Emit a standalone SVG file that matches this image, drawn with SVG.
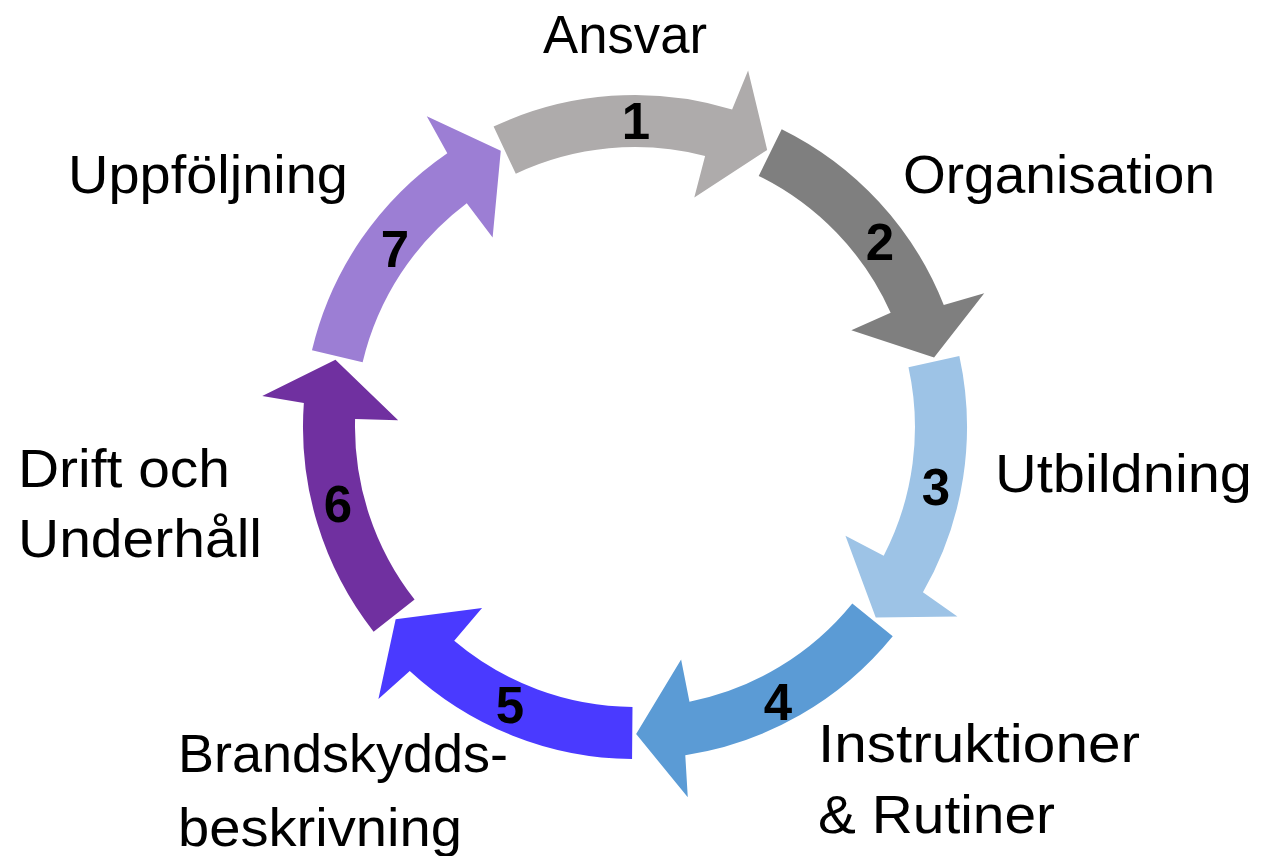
<svg xmlns="http://www.w3.org/2000/svg" xmlns:xlink="http://www.w3.org/1999/xlink" width="1261" height="856" viewBox="0 0 1261 856">
<style>
.lbl{font-family:"Liberation Sans",Arial,sans-serif;font-size:54px;fill:#000}
.num{font-family:"Liberation Sans",Arial,sans-serif;font-size:51px;font-weight:bold;fill:#000;text-anchor:middle}
</style>
<defs>
<path id="arr" d="M493.6,126.6 A332,332 0 0 1 732.1,109.5 L748.1,70.5 L767.2,149.9 L694.3,197.6 L705.1,155.9 A280,280 0 0 0 515.8,173.7 Z"/>
</defs>
<rect width="1261" height="856" fill="#fff"/>
<g id="connectors">
<g id="arrow1"><use href="#arr" fill="#AEABAB"/></g>
<g id="arrow2"><use href="#arr" fill="#7F7F7F" transform="rotate(51.4286 635 427)"/></g>
<g id="arrow3"><use href="#arr" fill="#9DC3E6" transform="rotate(102.8571 635 427)"/></g>
<g id="arrow4"><use href="#arr" fill="#5B9BD5" transform="rotate(154.2857 635 427)"/></g>
<g id="arrow5"><use href="#arr" fill="#4A3AFF" transform="rotate(205.7143 635 427)"/></g>
<g id="arrow6"><use href="#arr" fill="#7030A0" transform="rotate(257.1429 635 427)"/></g>
<g id="arrow7"><use href="#arr" fill="#9C7ED4" transform="rotate(308.5714 635 427)"/></g>
</g>
<g id="numbers">
<text class="num" x="636" y="139">1</text>
<text class="num" x="880" y="260">2</text>
<text class="num" x="936" y="505">3</text>
<text class="num" x="778" y="720">4</text>
<text class="num" x="510" y="723">5</text>
<text class="num" x="338" y="522">6</text>
<text class="num" x="395" y="267">7</text>
</g>
<g id="node-ansvar"><text class="lbl" x="543" y="53" textLength="164" lengthAdjust="spacingAndGlyphs">Ansvar</text></g>
<g id="node-organisation"><text class="lbl" x="903" y="193" textLength="312" lengthAdjust="spacingAndGlyphs">Organisation</text></g>
<g id="node-utbildning"><text class="lbl" x="995" y="492" textLength="257" lengthAdjust="spacingAndGlyphs">Utbildning</text></g>
<g id="node-instruktioner"><text class="lbl" x="818" y="762" textLength="322" lengthAdjust="spacingAndGlyphs">Instruktioner</text><text class="lbl" x="818" y="833" textLength="237" lengthAdjust="spacingAndGlyphs">&amp; Rutiner</text></g>
<g id="node-brandskydd"><text class="lbl" x="178" y="772" textLength="330" lengthAdjust="spacingAndGlyphs">Brandskydds-</text><text class="lbl" x="178" y="846" textLength="284" lengthAdjust="spacingAndGlyphs">beskrivning</text></g>
<g id="node-drift"><text class="lbl" x="18" y="487" textLength="212" lengthAdjust="spacingAndGlyphs">Drift och</text><text class="lbl" x="18" y="557" textLength="244" lengthAdjust="spacingAndGlyphs">Underhåll</text></g>
<g id="node-uppfoljning"><text class="lbl" x="68" y="193" textLength="280" lengthAdjust="spacingAndGlyphs">Uppföljning</text></g>
</svg>
